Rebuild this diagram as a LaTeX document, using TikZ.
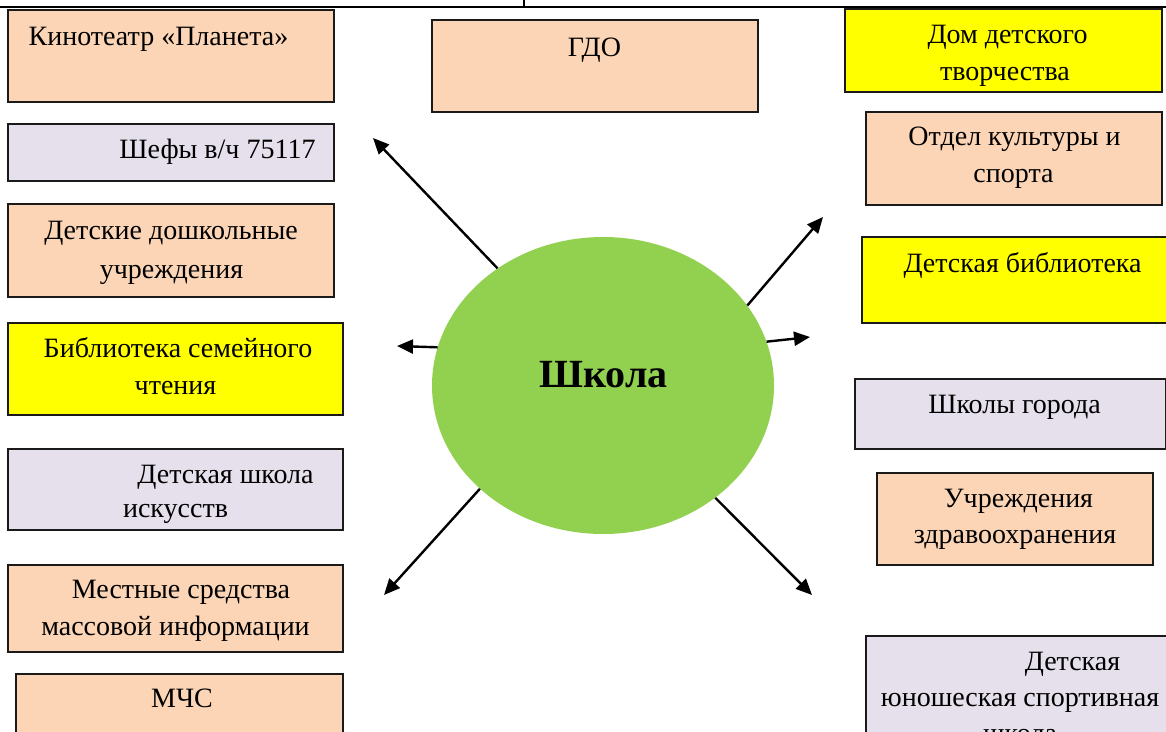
\documentclass[tikz,border=0pt]{standalone}
\usepackage{fontspec}
\setmainfont{Liberation Serif}
\usetikzlibrary{shapes.geometric,arrows.meta}
\definecolor{peach}{HTML}{FBD5B5}
\definecolor{lav}{HTML}{E5E0EC}
\definecolor{yel}{HTML}{FFFF00}
\definecolor{grn}{HTML}{92D050}
\definecolor{bord}{HTML}{1A1A1A}
\begin{document}
\begin{tikzpicture}[x=1pt,y=-1pt,
  box/.style={draw=bord,line width=1.6pt,rectangle,inner sep=0pt},
  txt/.style={inner sep=0pt,anchor=base,font=\fontsize{28}{37}\selectfont},
  link/.style={line width=2.4pt,-{Triangle[length=16pt,width=14pt]}}]
\useasboundingbox (0,0) rectangle (1166,731);
% top rule
\draw[line width=2.6pt] (0,7) -- (1166,7);
\draw[line width=1.2pt] (524,0) -- (524,7);
% left column boxes
\path[box,fill=peach] (8,10) rectangle (334,102) node[pos=.5] (kino) {};
\path[box,fill=peach] (432,20) rectangle (758,112) node[pos=.5] (gdo) {};
\path[box,fill=lav] (8,124) rectangle (334,181) node[pos=.5] (shefy) {};
\path[box,fill=peach] (8,204) rectangle (334,297) node[pos=.5] (dou) {};
\path[box,fill=yel] (8,323) rectangle (343,415) node[pos=.5] (bsch) {};
\path[box,fill=lav] (8,449) rectangle (343,530) node[pos=.5] (dshi) {};
\path[box,fill=peach] (8,565) rectangle (343,652) node[pos=.5] (smi) {};
\path[box,fill=peach] (16,674) rectangle (343,760) node[pos=.5] (mchs) {};
% right column boxes
\path[box,fill=yel] (845,9) rectangle (1162,92) node[pos=.5] (ddt) {};
\path[box,fill=peach] (866,112) rectangle (1162,205) node[pos=.5] (okis) {};
\path[box,fill=yel] (862,237) rectangle (1175,323) node[pos=.5] (dbib) {};
\path[box,fill=lav] (855,379) rectangle (1166,449) node[pos=.5] (shg) {};
\path[box,fill=peach] (877,473) rectangle (1153,565) node[pos=.5] (uzdr) {};
\path[box,fill=lav] (866,636) rectangle (1175,760) node[pos=.5] (dyush) {};
% texts
\node[txt] (t1) at (158.5,45) {Кинотеатр «Планета»};
\node[txt] (t2) at (594.5,56) {ГДО};
\node[txt] (t3) at (217.5,158) {Шефы в/ч 75117};
\node[txt] (t4a) at (171,239) {Детские дошкольные};
\node[txt] (t4b) at (171.5,278) {учреждения};
\node[txt] (t5a) at (178,357) {Библиотека семейного};
\node[txt] (t5b) at (175.5,394) {чтения};
\node[txt] (t6a) at (225.5,483) {Детская школа};
\node[txt] (t6b) at (175.5,517) {искусств};
\node[txt] (t7a) at (181,598) {Местные средства};
\node[txt] (t7b) at (175.5,635) {массовой информации};
\node[txt] (t8) at (182,707) {МЧС};
\node[txt] (t9a) at (1007.5,43) {Дом детского};
\node[txt] (t9b) at (1005,80) {творчества};
\node[txt] (t10a) at (1014.5,145) {Отдел культуры и};
\node[txt] (t10b) at (1013.5,182) {спорта};
\node[txt] (t11) at (1022.5,272) {Детская библиотека};
\node[txt] (t12) at (1014.5,413) {Школы города};
\node[txt] (t13a) at (1018.5,507) {Учреждения};
\node[txt] (t13b) at (1015,543) {здравоохранения};
\node[txt] (t14a) at (1072.5,670) {Детская};
\node[txt] (t14b) at (1020,706) {юношеская спортивная};
\node[txt] (t14c) at (1020,742) {школа};
% centre
\node[ellipse,fill=grn,minimum width=342pt,minimum height=297pt,inner sep=0pt] (school) at (603,385.5) {};
\node[inner sep=0pt,anchor=base,font=\fontsize{40}{48}\selectfont\bfseries] (schooltxt) at (603.5,387) {Школа};
% arrow ends
\coordinate (eNW) at (373,138);
\coordinate (eNE) at (823,217);
\coordinate (eW) at (397,346);
\coordinate (eE) at (810,337);
\coordinate (eSW) at (384,595);
\coordinate (eSE) at (812,595);
\draw[link] (school.132.3) -- (eNW);
\draw[link] (school.29.8) -- (eNE);
\draw[link] (school.167.5) -- (eW);
\draw[link] (school.15.2) -- (eE);
\draw[link] (school.220.9) -- (eSW);
\draw[link] (school.315.1) -- (eSE);
\end{tikzpicture}
\end{document}
